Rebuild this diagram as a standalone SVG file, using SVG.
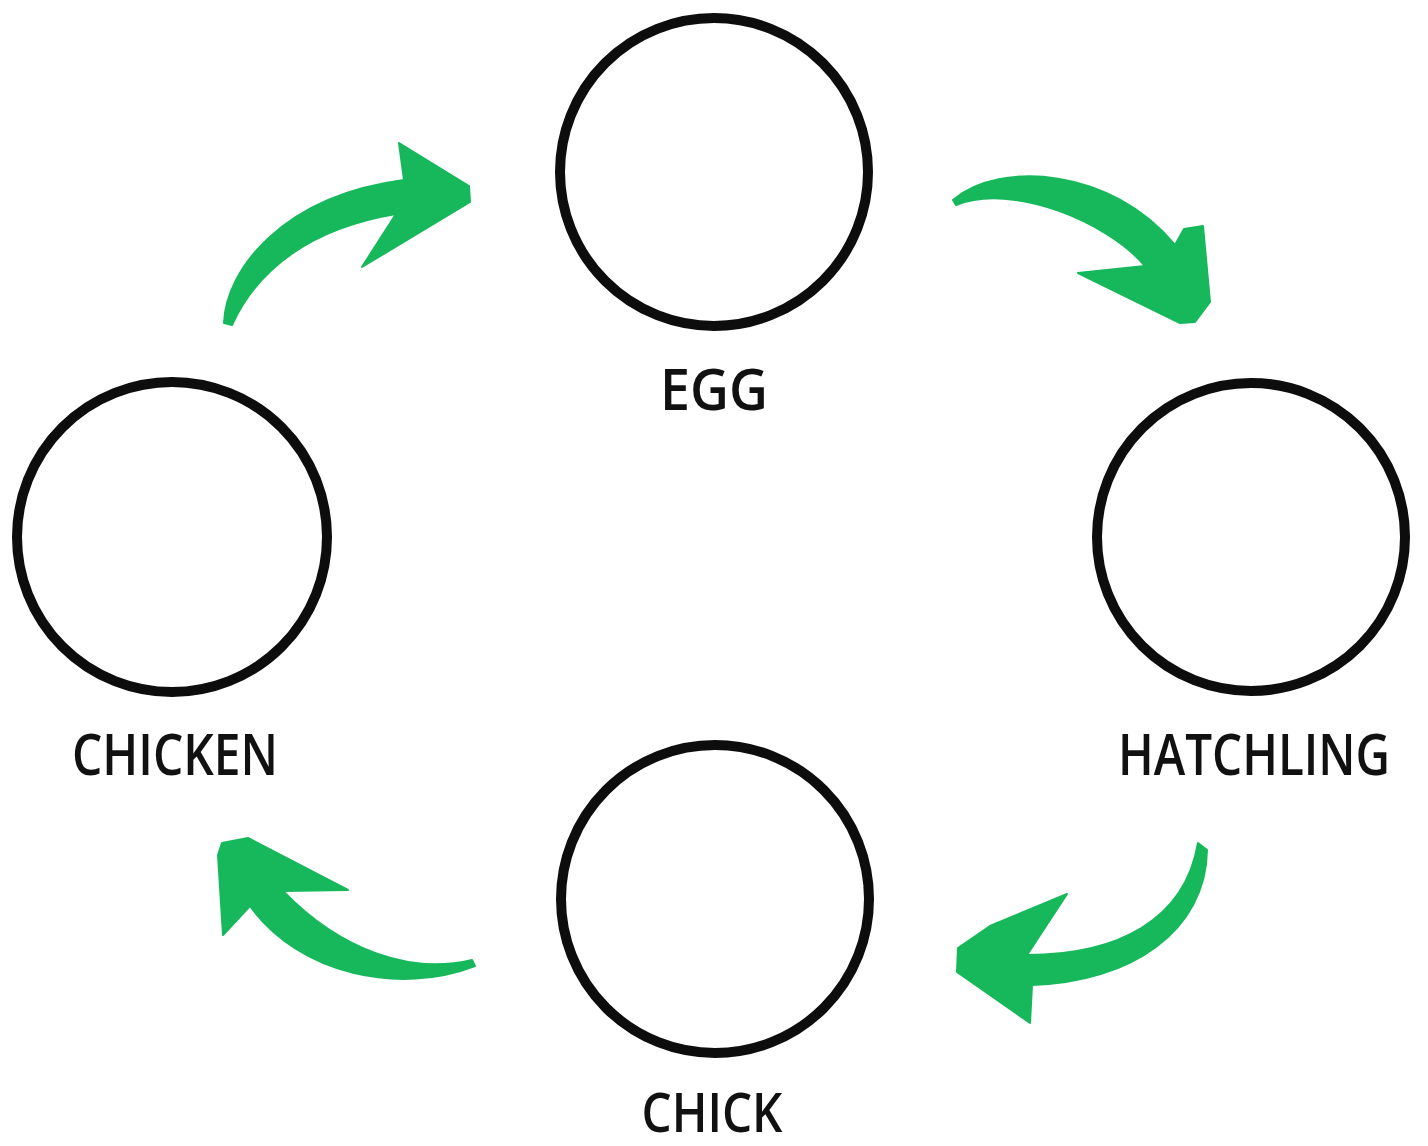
<svg xmlns="http://www.w3.org/2000/svg" width="1428" height="1146" viewBox="0 0 1428 1146">
<style>
.node circle{fill:none;stroke:#0d0d0d;stroke-width:10}
.label{font-family:"Open Sans","Liberation Sans",sans-serif;font-weight:600;font-size:58px;fill:#111;text-anchor:middle}
.arrow{fill:#17b85c;stroke:#17b85c;stroke-width:2;stroke-linejoin:round}
</style>
<rect width="1428" height="1146" fill="#fff"/>
<g id="egg" class="node">
<circle cx="714" cy="172" r="154"/>
<text class="label" x="714" y="410" textLength="108" lengthAdjust="spacingAndGlyphs">EGG</text>
</g>
<g id="hatchling" class="node">
<circle cx="1251" cy="537" r="154"/>
<text class="label" x="1254" y="775" style="font-size:51px" transform="matrix(1 0 0 1.14 0 -108.5)" textLength="272" lengthAdjust="spacingAndGlyphs">HATCHLING</text>
</g>
<g id="chick" class="node">
<circle cx="715" cy="899" r="154"/>
<text class="label" x="712" y="1132" style="font-size:54px" textLength="141" lengthAdjust="spacingAndGlyphs">CHICK</text>
</g>
<g id="chicken" class="node">
<circle cx="172" cy="537" r="155"/>
<text class="label" x="175" y="775" textLength="206" lengthAdjust="spacingAndGlyphs">CHICKEN</text>
</g>
<g id="connectors">
<path class="arrow" d="M 224 323 C 226 270 282 196 404 180 L 399 143 L 469 186 L 470 202 L 362 267 L 396 214 C 312 228 258 268 232 325 Z"/>
<path class="arrow" d="M 953 200 C 1000 160 1112 168 1175 245 L 1184 229 L 1203 226 L 1210 302 L 1195 322 L 1180 323 L 1078 273 L 1145 266 C 1108 222 1012 182 956 205 Z"/>
<path class="arrow" d="M 1198 843 C 1185 920 1118 955 1027 955 L 1067 894 L 990 926 L 958 948 L 957 972 L 1030 1023 L 1032 985 C 1132 982 1206 930 1207 850 Z"/>
<path class="arrow" d="M 472 960 C 410 975 340 950 283 891 L 348 890 L 248 838 L 222 843 L 218 855 L 223 935 L 250 906 C 300 975 400 995 475 966 Z"/>
</g>
</svg>
